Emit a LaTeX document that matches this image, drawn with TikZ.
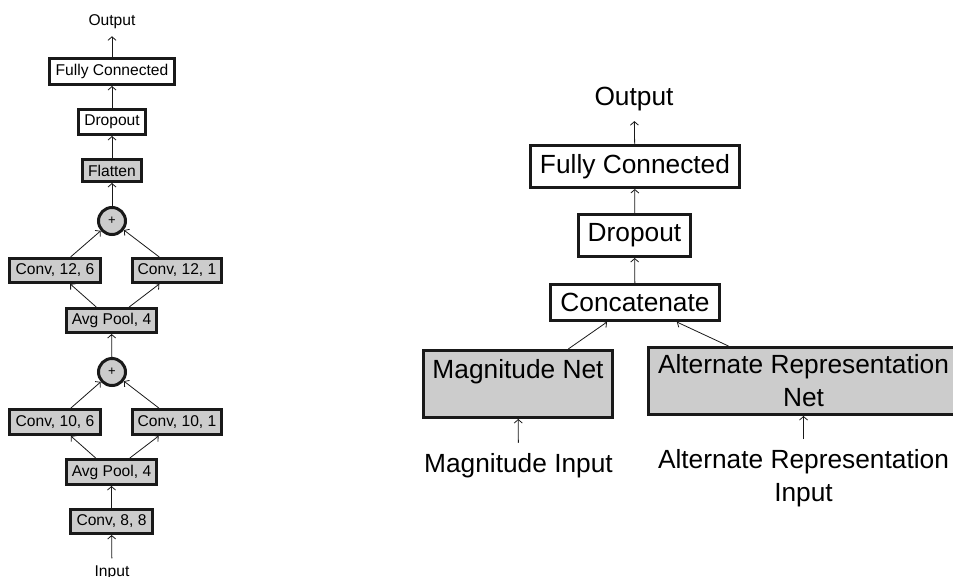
\documentclass[tikz,border=0pt]{standalone}
\usepackage{fontspec}
\setmainfont{Liberation Sans}
\usetikzlibrary{arrows.meta}
\begin{document}
\begin{tikzpicture}[x=1pt,y=-1pt,
  lfont/.style={font=\fontsize{15.6}{18}\selectfont},
  rfont/.style={font=\fontsize{26.3}{33}\selectfont},
  box/.style={draw=black!90, line width=3pt, inner sep=2pt, rectangle},
  lbox/.style={box, lfont, fill=white},
  lgbox/.style={box, lfont, fill=black!20},
  rbox/.style={box, rfont, fill=white},
  rgbox/.style={box, rfont, fill=black!20, align=center},
  sumnode/.style={draw=black!90, line width=3pt, circle, fill=black!20, minimum size=27pt, inner sep=0pt, font=\fontsize{13}{15}\selectfont},
  llabel/.style={lfont, inner sep=7pt},
  rlabel/.style={rfont, inner sep=10pt, align=center},
  conn/.style={draw=black!90, line width=0.8pt, -{Straight Barb[length=3.5pt,width=8pt]}}
]
\useasboundingbox (0,0) rectangle (953,576);
\clip (0,0) rectangle (953,576);

% ---------- left network ----------
\node[llabel] (lout) at (112,22) {Output};
\node[lbox, minimum width=125pt, minimum height=26pt] (lfc) at (112,71.5) {Fully Connected};
\node[lbox, minimum width=67pt, minimum height=25pt] (ldrop) at (112,122) {Dropout};
\node[lgbox, minimum width=59pt, minimum height=22pt] (flat) at (112,170.5) {Flatten};
\node[sumnode] (sumA) at (112,221) {+};
\node[lgbox, minimum width=91pt, minimum height=24pt] (c126) at (55,270.5) {Conv, 12, 6};
\node[lgbox, minimum width=89pt, minimum height=24pt] (c121) at (177,270.5) {Conv, 12, 1};
\node[lgbox, minimum width=90pt, minimum height=24pt] (poolA) at (111.5,320.5) {Avg Pool, 4};
\node[sumnode] (sumB) at (112,372) {+};
\node[lgbox, minimum width=91pt, minimum height=25pt] (c106) at (55,422) {Conv, 10, 6};
\node[lgbox, minimum width=89pt, minimum height=25pt] (c101) at (177,422) {Conv, 10, 1};
\node[lgbox, minimum width=90pt, minimum height=25pt] (poolB) at (111.5,472) {Avg Pool, 4};
\node[lgbox, minimum width=82pt, minimum height=24pt] (c88) at (111.5,521.5) {Conv, 8, 8};
\node[llabel] (lin) at (112,572.5) {Input};

\draw[conn] (lin) -- (c88);
\draw[conn] (c88) -- (poolB);
\draw[conn] (poolB) -- (c106);
\draw[conn] (poolB) -- (c101);
\draw[conn] (c106) -- (sumB);
\draw[conn] (c101) -- (sumB);
\draw[conn] (sumB) -- (poolA);
\draw[conn] (poolA) -- (c126);
\draw[conn] (poolA) -- (c121);
\draw[conn] (c126) -- (sumA);
\draw[conn] (c121) -- (sumA);
\draw[conn] (sumA) -- (flat);
\draw[conn] (flat) -- (ldrop);
\draw[conn] (ldrop) -- (lfc);
\draw[conn] (lfc) -- (lout);

% ---------- right network ----------
\node[rlabel] (rout) at (634,99) {Output};
\node[rbox, minimum width=209pt, minimum height=42pt] (rfc) at (635,166.5) {Fully Connected};
\node[rbox, minimum width=112pt, minimum height=42pt] (rdrop) at (634.5,235.5) {Dropout};
\node[rbox, minimum width=169pt, minimum height=36pt] (concat) at (635,302.5) {Concatenate};
\node[rgbox, minimum width=189pt, minimum height=67pt, text height=20pt, text depth=32pt] (magnet) at (518,384) {Magnitude Net};
\node[rgbox, minimum width=310pt, minimum height=67pt] (altnet) at (803.5,381) {Alternate Representation\\Net};
\node[rlabel] (magin) at (518.5,465.2) {Magnitude Input};
\node[rlabel] (altin) at (803.5,478) {Alternate Representation\\Input};

\draw[conn] (magin) -- (magnet);
\draw[conn] (altin) -- (altnet);
\draw[conn] (magnet) -- (concat);
\draw[conn] (altnet) -- (concat);
\draw[conn] (concat) -- (rdrop);
\draw[conn] (rdrop) -- (rfc);
\draw[conn] (rfc) -- (rout);
\end{tikzpicture}
\end{document}
